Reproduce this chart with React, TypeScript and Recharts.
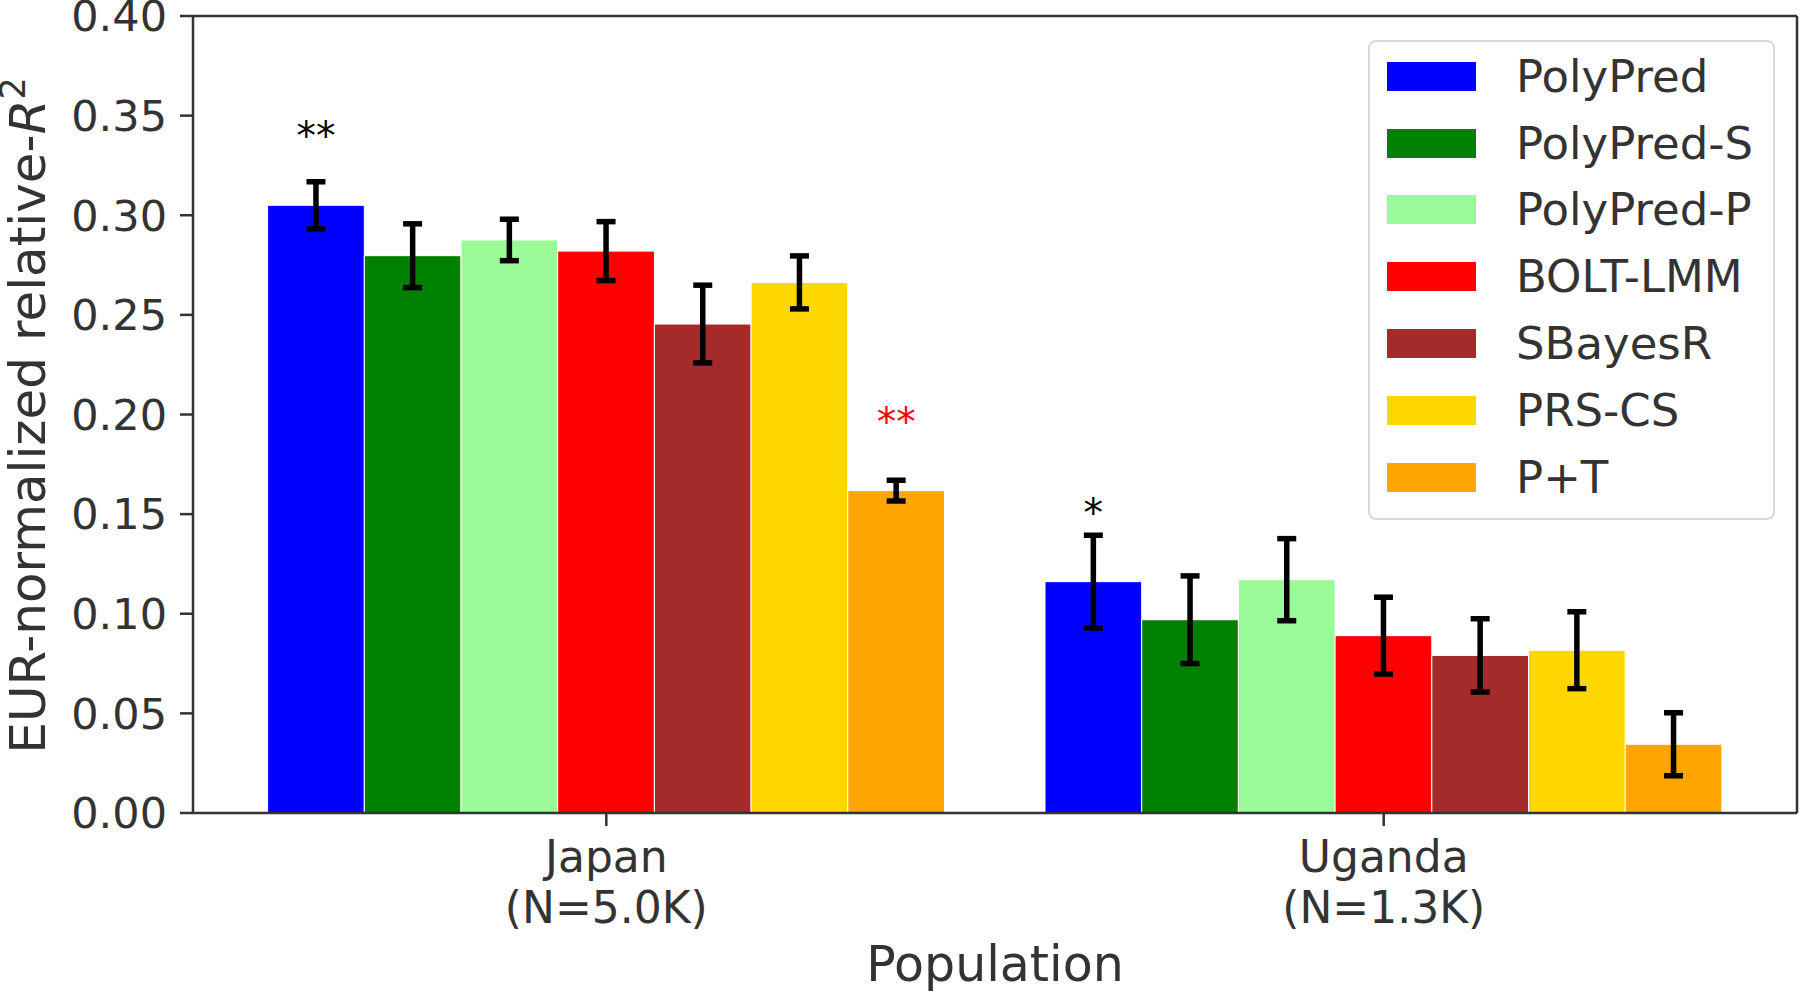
import React from "react";
import { BarChart, Bar, XAxis, YAxis, ErrorBar, LabelList, Legend, Label } from "recharts";

const populations = ["Japan", "Uganda"];
const sampleSizes = ["(N=5.0K)", "(N=1.3K)"];
const methods = ["PolyPred", "PolyPred-S", "PolyPred-P", "BOLT-LMM", "SBayesR", "PRS-CS", "P+T"];
const methodColors = ["#0000ff", "#008000", "#98fb98", "#ff0000", "#a52a2a", "#ffd700", "#ffa500"];

// EUR-normalized relative R^2 and its standard error, one entry per method
const japanR2 = [0.305, 0.2797, 0.2876, 0.282, 0.2454, 0.2663, 0.1618];
const japanSE = [0.0118, 0.016, 0.0104, 0.0148, 0.0195, 0.0133, 0.0052];
const ugandaR2 = [0.1161, 0.097, 0.1171, 0.089, 0.0791, 0.0817, 0.0345];
const ugandaSE = [0.0233, 0.022, 0.0206, 0.0193, 0.0184, 0.0193, 0.0158];

// significance markers above the bars
const japanStars = ["**", "", "", "", "", "", "**"];
const ugandaStars = ["*", "", "", "", "", "", ""];
// markers drawn in red: [population, method]
const redStars = [["Japan", "P+T"]];

const yTicks = [0, 0.05, 0.1, 0.15, 0.2, 0.25, 0.3, 0.35, 0.4];

const FONT = "'DejaVu Sans', sans-serif";
const INK = "#333333";

const r2 = [japanR2, ugandaR2];
const se = [japanSE, ugandaSE];
const stars = [japanStars, ugandaStars];

const data = populations.map((pop, p) => {
  const row: Record<string, any> = { pop };
  methods.forEach((_, i) => {
    row[`v${i}`] = r2[p][i];
    row[`e${i}`] = se[p][i];
    row[`s${i}`] = stars[p][i];
  });
  return row;
});

const PopTick = (props: any) => {
  const { x, y, payload } = props;
  const idx = populations.indexOf(payload.value);
  return (
    <text textAnchor="middle" fill={INK} fontSize={44} fontFamily={FONT}>
      <tspan x={x} y={y + 46}>{payload.value}</tspan>
      <tspan x={x} y={y + 97}>{sampleSizes[idx]}</tspan>
    </text>
  );
};

const starContent = (k: number) => (props: any) => {
  const { value, index } = props;
  if (!value) return null;
  const vb = props.viewBox ?? props;
  const cx = vb.x + vb.width / 2;
  const top = Math.min(vb.y, vb.y + vb.height);
  const isRed = redStars.some(([p, m]) => p === populations[index] && m === methods[k]);
  return (
    <text x={cx} y={top - 56} textAnchor="middle" fontSize={39} fontFamily={FONT} fill={isRed ? "#ff0000" : "#000000"}>
      {value}
    </text>
  );
};

const YLabel = (props: any) => {
  const vb = props.viewBox;
  const cx = vb.x + 45;
  const cy = vb.y + vb.height / 2 + 1;
  return (
    <text x={cx} y={cy} transform={`rotate(-90, ${cx}, ${cy})`} textAnchor="middle" fontSize={50} fontFamily={FONT} fill={INK}>
      EUR-normalized relative-<tspan fontStyle="italic">R</tspan>
      <tspan dy={-20} fontSize={35}>2</tspan>
    </text>
  );
};

const XLabel = (props: any) => {
  const vb = props.viewBox;
  return (
    <text x={vb.x + vb.width / 2} y={vb.y + 168} textAnchor="middle" fontSize={49} fontFamily={FONT} fill={INK}>
      Population
    </text>
  );
};

// legend drawn in the method order, not the sorted payload order
const LegendBox = () => (
  <div
    style={{
      width: 407,
      height: 480,
      boxSizing: "border-box",
      border: "2px solid #d9d9d9",
      borderRadius: 8,
      background: "rgba(255,255,255,0.8)",
      fontFamily: FONT,
      fontSize: 45,
      color: INK,
      paddingTop: 1,
    }}
  >
    {methods.map((m, i) => (
      <div key={m} style={{ height: 66.8, display: "flex", alignItems: "center" }}>
        <div style={{ width: 89, height: 29, background: methodColors[i], marginLeft: 17 }} />
        <span style={{ marginLeft: 40, lineHeight: 1, whiteSpace: "nowrap" }}>{m}</span>
      </div>
    ))}
  </div>
);

export default function App() {
  return (
    <div style={{ position: "absolute", left: 0, top: 0, width: 1800, height: 992, background: "#fff" }}>
      <BarChart
        width={1800}
        height={992}
        data={data}
        margin={{ top: 15, right: 2, bottom: 0, left: 0 }}
        barGap={0}
        barSize={96.7}
      >
        {methods.map((m, i) => (
          <Bar
            key={m}
            dataKey={`v${i}`}
            name={m}
            fill={methodColors[i]}
            stroke="#ffffff"
            strokeWidth={1}
            isAnimationActive={false}
          >
            <ErrorBar dataKey={`e${i}`} width={9.5} strokeWidth={5.5} stroke="#000000" direction="y" isAnimationActive={false} />
            <LabelList dataKey={`s${i}`} content={starContent(i)} />
          </Bar>
        ))}
        <XAxis
          dataKey="pop"
          height={179}
          padding={{ left: 24.6, right: 24.6 }}
          tick={<PopTick />}
          tickSize={13}
          tickMargin={0}
          interval={0}
          axisLine={{ stroke: INK, strokeWidth: 2.5 }}
          tickLine={{ stroke: INK, strokeWidth: 2.5 }}
        >
          <Label content={<XLabel />} />
        </XAxis>
        <XAxis
          xAxisId="top"
          orientation="top"
          dataKey="pop"
          height={1}
          tick={false}
          tickLine={false}
          axisLine={{ stroke: INK, strokeWidth: 2.5 }}
        />
        <YAxis
          width={193}
          domain={[0, 0.4]}
          ticks={yTicks}
          interval={0}
          tickFormatter={(v: number) => v.toFixed(2)}
          tick={{ fill: INK, fontSize: 43, fontFamily: FONT }}
          tickSize={13}
          tickMargin={13}
          axisLine={{ stroke: INK, strokeWidth: 2.5 }}
          tickLine={{ stroke: INK, strokeWidth: 2.5 }}
        >
          <Label content={<YLabel />} />
        </YAxis>
        <YAxis
          yAxisId="right"
          orientation="right"
          width={1}
          domain={[0, 0.4]}
          tick={false}
          tickLine={false}
          axisLine={{ stroke: INK, strokeWidth: 2.5 }}
        />
        <Legend
          layout="vertical"
          align="center"
          verticalAlign="middle"
          content={<LegendBox />}
          wrapperStyle={{ left: 1368, top: 40, width: 407, height: 480 }}
        />
      </BarChart>
    </div>
  );
}
